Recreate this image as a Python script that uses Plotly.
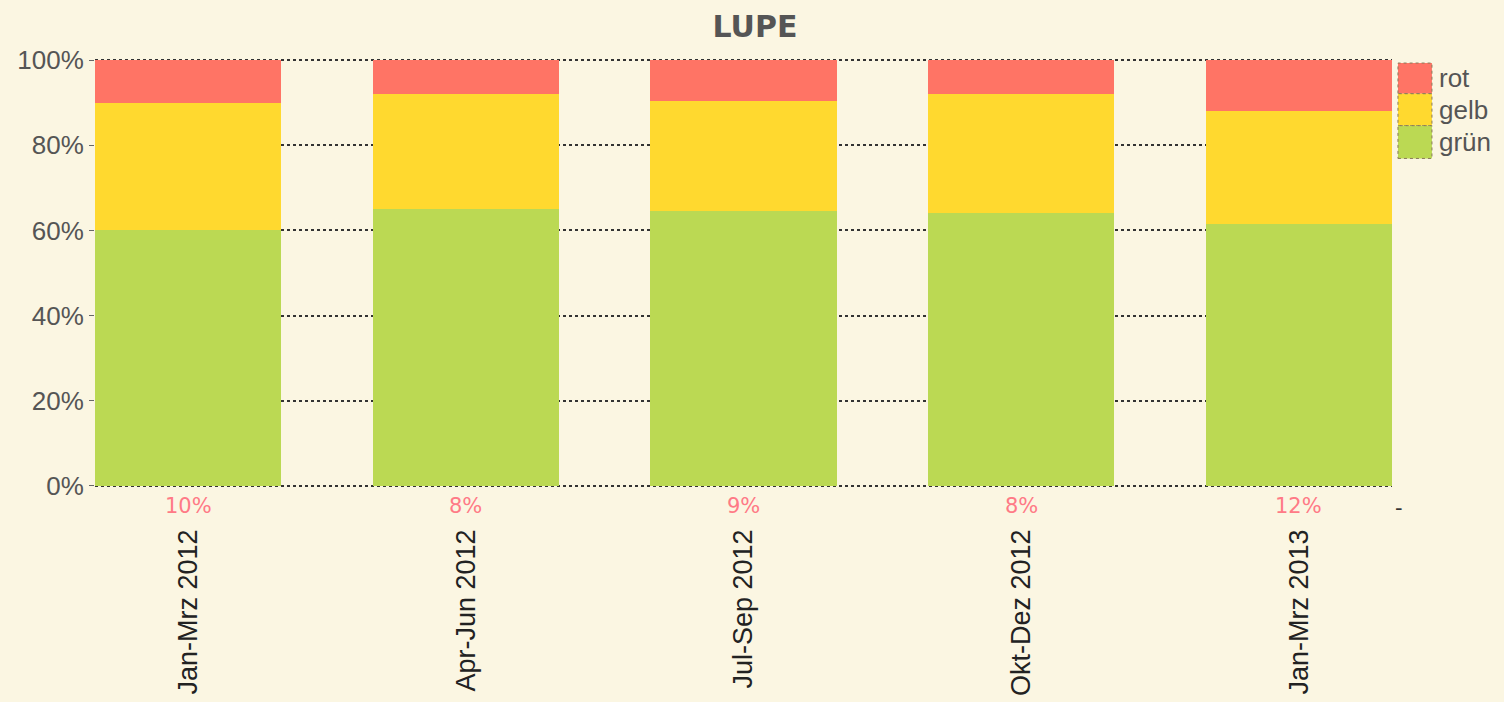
import plotly.graph_objects as go

categories = ["Jan-Mrz 2012", "Apr-Jun 2012", "Jul-Sep 2012", "Okt-Dez 2012", "Jan-Mrz 2013"]
gruen = [60, 65, 64.5, 64, 61.5]
gelb = [30, 27, 26, 28, 26.5]
rot = [10, 8, 9.5, 8, 12]
rot_labels = ["10%", "8%", "9%", "8%", "12%"]
series_names = ["grün", "gelb", "rot"]
colors = {"grün": "#BBD953", "gelb": "#FFD92F", "rot": "#FF7465"}
y_ticks = [0, 20, 40, 60, 80, 100]
y_ticktext = [f"{v}%" for v in y_ticks]

bg = "#FBF6E2"
x_idx = list(range(len(categories)))

fig = go.Figure()
for name, vals in zip(series_names, [gruen, gelb, rot]):
    fig.add_trace(go.Bar(x=x_idx, y=vals, name=name, marker_color=colors[name],
                         marker_line_width=0, showlegend=False))

# percent labels of "rot" below bars
for i, lab in enumerate(rot_labels):
    fig.add_annotation(x=i, y=0, xref="x", yref="paper", text=lab,
                       showarrow=False, yanchor="top", yshift=-5,
                       font=dict(family="DejaVu Sans", size=21, color="#FF7A86"))
fig.add_annotation(x=1.01, y=0, xref="paper", yref="paper", text="-",
                   showarrow=False, yanchor="top", yshift=-7,
                   font=dict(family="DejaVu Sans", size=21, color="#333"))

# manual legend
legend_items = [("rot", 99.3, 92.1), ("gelb", 92.1, 84.6), ("grün", 84.6, 76.9)]
for name, y1, y0 in legend_items:
    fig.add_shape(type="rect", xref="paper", yref="y", x0=1.0046, x1=1.0308, y0=y0, y1=y1,
                  fillcolor=colors[name], line=dict(color="#8a7a5a", width=1, dash="dot"))
    fig.add_annotation(xref="paper", yref="y", x=1.0345, y=(y0 + y1) / 2, text=name,
                       showarrow=False, xanchor="left", yanchor="middle",
                       font=dict(family="Liberation Sans", size=26, color="#555"))

fig.update_layout(
    width=1504, height=702,
    barmode="stack", bargap=0.33,
    paper_bgcolor=bg, plot_bgcolor=bg,
    margin=dict(l=95, r=112, t=59, b=215, autoexpand=False),
    title=dict(text="<b>LUPE</b>", x=0.502, xanchor="center", y=0.962, yanchor="middle",
               font=dict(family="DejaVu Sans", size=30, color="#555")),
    xaxis=dict(tickmode="array", tickvals=x_idx, ticktext=categories, tickangle=-90,
               range=[-0.335, 4.335], showgrid=False, zeroline=False, showline=False,
               ticks="", ticklabelstandoff=36, automargin=False,
               tickfont=dict(family="Liberation Sans", size=27, color="#222")),
    yaxis=dict(range=[-0.25, 100.25], tickmode="array", tickvals=y_ticks, ticktext=y_ticktext,
               showgrid=True, gridcolor="#333", gridwidth=2, griddash="dot", zeroline=False,
               ticks="outside", ticklen=5, tickcolor="#666", automargin=False,
               tickfont=dict(family="Liberation Sans", size=26, color="#555")),
)

fig.write_html("out.html", config={"displayModeBar": False},
               post_script="document.body.style.margin='0';document.body.style.background='" + bg + "';")
